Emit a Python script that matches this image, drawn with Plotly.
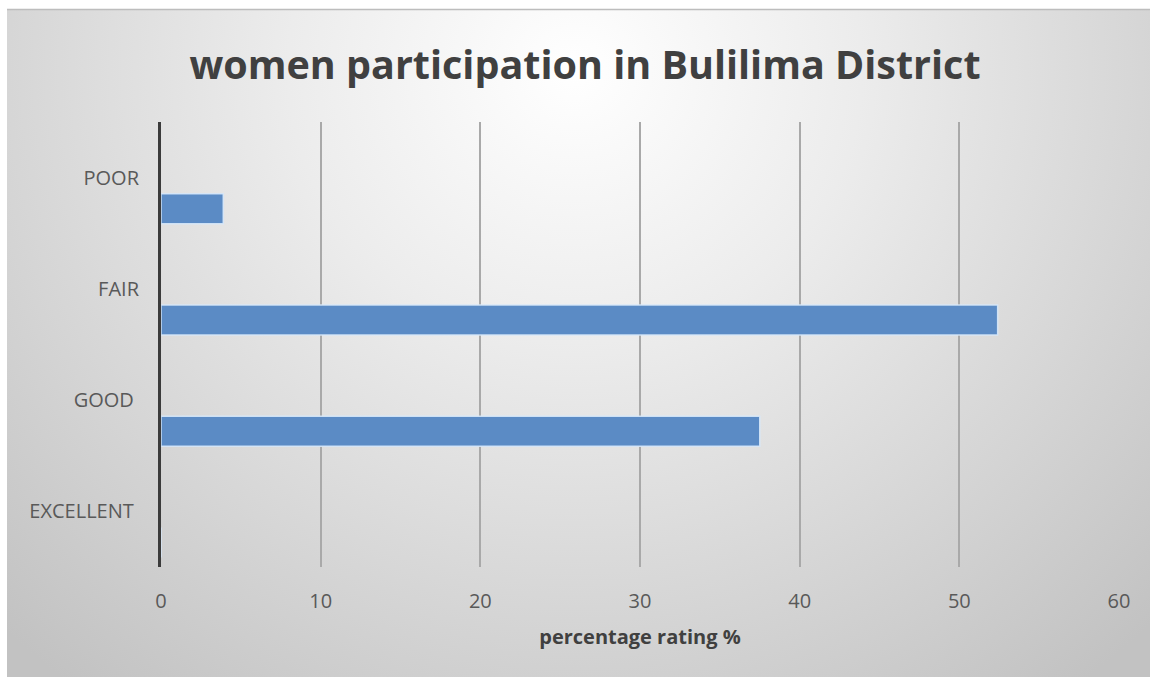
import base64
import plotly.graph_objects as go

categories = ["EXCELLENT\u00a0", "GOOD\u00a0", "FAIR", "POOR"]
values = [0, 37.5, 52.4, 3.9]
x_ticks = [0, 10, 20, 30, 40, 50, 60]

W, H = 1150, 677
L, R, T, B = 161, 31, 122, 110
pw, ph = W - L - R, H - T - B

svg = f'''<svg xmlns="http://www.w3.org/2000/svg" width="{W}" height="{H}" viewBox="0 0 {W} {H}">
<defs><radialGradient id="g" gradientUnits="userSpaceOnUse" cx="575" cy="70" r="820"
 gradientTransform="translate(575 70) scale(1 0.95) translate(-575 -70)">
<stop offset="0" stop-color="#ffffff"/><stop offset="0.35" stop-color="#ececec"/>
<stop offset="1" stop-color="#c2c2c2"/></radialGradient></defs>
<rect x="0" y="0" width="{W}" height="{H}" fill="#ffffff"/>
<rect x="7" y="9" width="{W-7}" height="{H-9}" fill="url(#g)"/>
<line x1="7" y1="9.5" x2="{W}" y2="9.5" stroke="#bdbdbd" stroke-width="1.5"/>
</svg>'''
src = "data:image/svg+xml;base64," + base64.b64encode(svg.encode()).decode()

fig = go.Figure()
fig.add_trace(go.Bar(
    y=categories, x=values, orientation="h",
    width=0.27, offset=-0.415,
    marker=dict(color="#5b8bc5", line=dict(color="rgba(215,232,250,0.9)", width=1.5)),
    showlegend=False, hoverinfo="x+y",
))

fig.add_layout_image(dict(
    source=src, xref="paper", yref="paper",
    x=-L / pw, y=1 + T / ph, sizex=W / pw, sizey=H / ph,
    xanchor="left", yanchor="top", sizing="stretch", layer="below",
))

fig.update_layout(
    width=W, height=H,
    margin=dict(l=L, r=R, t=T, b=B),
    paper_bgcolor="white", plot_bgcolor="rgba(0,0,0,0)",
    title=dict(text="<b>women participation in Bulilima District</b>",
               x=585 / W, xanchor="center", xref="container",
               y=1 - 65 / H, yanchor="middle",
               font=dict(family="Open Sans", size=39.5, color="#404040")),
    font=dict(family="Open Sans", color="#595959"),
    xaxis=dict(range=[0, 60], tickvals=x_ticks, showgrid=True, gridcolor="#a9a9a9",
               gridwidth=1.5, zeroline=False, showline=False, ticks="",
               tickfont=dict(size=20, color="#595959"), ticklabelstandoff=20,
               title=dict(text="<b>percentage rating %</b>", standoff=16,
                          font=dict(size=20, color="#404040"))),
    yaxis=dict(categoryorder="array", categoryarray=categories, showgrid=False,
               showline=True, linecolor="#3b3b3b", linewidth=3, ticks="",
               tickfont=dict(size=20, color="#595959"), ticklabelstandoff=15,
               range=[-0.5, 3.5]),
)

fig.write_html("out.html", config={"displayModeBar": False},
               post_script="document.body.style.margin='0';document.body.style.overflow='hidden';")
